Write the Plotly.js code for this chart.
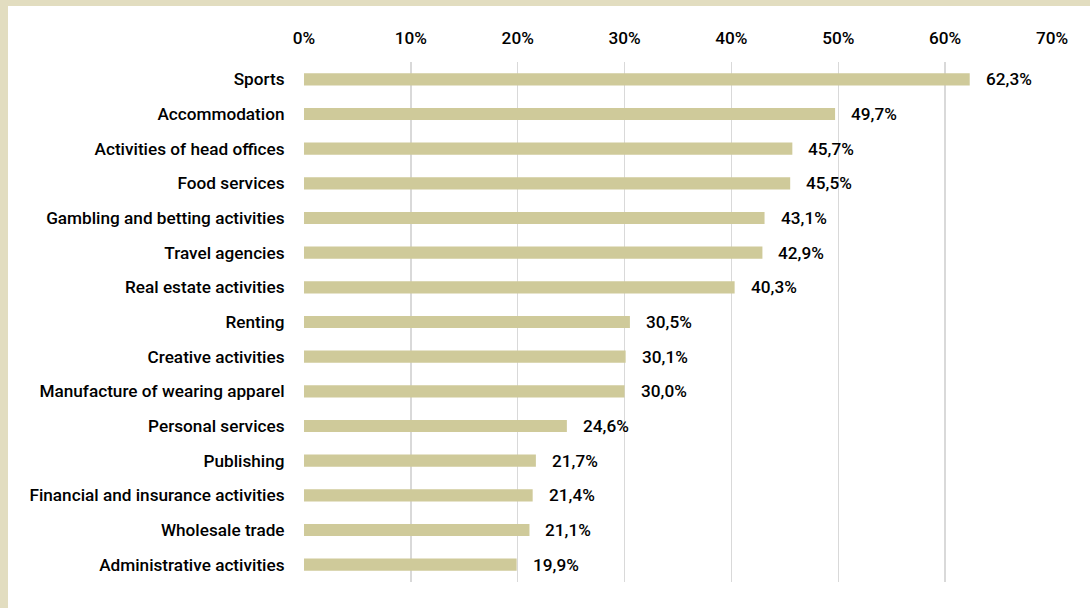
<!DOCTYPE html>
<html><head><meta charset="utf-8">
<script src="https://cdn.plot.ly/plotly-3.0.1.min.js"></script>
<style>
html,body{margin:0;padding:0;background:#E2DDC0;width:1090px;height:608px;overflow:hidden}
#chart{position:absolute;left:8px;top:6px;width:1082px;height:602px;background:#fff}
</style></head><body>
<div id="chart"></div>
<script>
const categories = ["Sports","Accommodation","Activities of head offices","Food services","Gambling and betting activities","Travel agencies","Real estate activities","Renting","Creative activities","Manufacture of wearing apparel","Personal services","Publishing","Financial and insurance activities","Wholesale trade","Administrative activities"];
const values = [62.3,49.7,45.7,45.5,43.1,42.9,40.3,30.5,30.1,30.0,24.6,21.7,21.4,21.1,19.9];
const valueLabels = ["62,3%","49,7%","45,7%","45,5%","43,1%","42,9%","40,3%","30,5%","30,1%","30,0%","24,6%","21,7%","21,4%","21,1%","19,9%"];
const tickVals = [0,10,20,30,40,50,60,70];
const tickText = ["0%","10%","20%","30%","40%","50%","60%","70%"];

const font = {family:'Roboto, "Liberation Sans", sans-serif', size:17.2, weight:500, color:'#000'};

const trace = {
  type:'bar', orientation:'h', x:values, y:categories,
  marker:{color:'#CFCA9A'}, width:0.35, hoverinfo:'none'
};
const annotations = values.map((v,i)=>({
  x:v, y:categories[i], xref:'x', yref:'y', text:valueLabels[i],
  showarrow:false, xanchor:'left', yanchor:'middle', xshift:14, font:font
}));
const layout = {
  width:1082, height:602,
  margin:{l:296, r:38, t:56, b:26},
  paper_bgcolor:'#fff', plot_bgcolor:'#fff',
  showlegend:false, font:font,
  xaxis:{side:'top', range:[0,70], tickvals:tickVals, ticktext:tickText,
    showgrid:true, gridcolor:'#D9D9D9', gridwidth:1.5, zeroline:false,
    ticks:'outside', ticklen:10, tickcolor:'rgba(0,0,0,0)', showline:false, fixedrange:true},
  yaxis:{autorange:'reversed', showgrid:false, zeroline:false, showline:false,
    ticks:'outside', ticklen:15, tickcolor:'rgba(0,0,0,0)', fixedrange:true},
  annotations:annotations
};
Plotly.newPlot('chart',[trace],layout,{displayModeBar:false,staticPlot:true});
</script></body></html>
